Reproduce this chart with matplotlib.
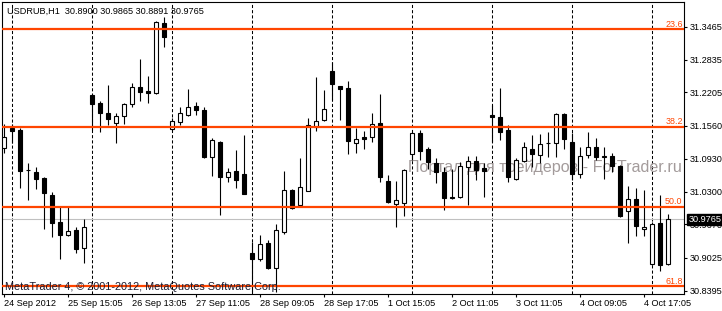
import numpy as np
import matplotlib.pyplot as plt

plt.rcParams['font.family'] = ['Liberation Sans', 'DejaVu Sans']

# USDRUB H1 candles
opens = [31.1130, 31.1526, 31.1481, 31.0707, 31.0675, 31.0560, 31.0227, 30.9709, 30.9459, 30.9555,
         30.9209, 31.2154, 31.1994, 31.1802, 31.1622, 31.1750, 31.1990, 31.2301, 31.2236, 31.2186,
         31.3530, 31.1495, 31.1641, 31.1764, 31.1942, 31.1865, 31.0957, 31.1251, 31.0573, 31.0694,
         31.0636, 30.9113, 30.8998, 30.9305, 30.8837, 30.9517, 31.0329, 31.0041, 31.0316, 31.1545,
         31.1673, 31.2614, 31.2326, 31.2294, 31.1226, 31.1341, 31.1341, 31.1622, 31.0508, 31.0054,
         31.0074, 31.1020, 31.1430, 31.1122, 31.0842, 31.0681, 31.0195, 31.0200, 31.0765, 31.0886,
         31.0746, 31.1769, 31.1725, 31.1481, 31.0540, 31.0892, 31.1111, 31.1001, 31.1226, 31.1226,
         31.1783, 31.1257, 31.0636, 31.1001, 31.1161, 31.0957, 31.0988, 31.0790, 30.9932, 31.0150,
         30.9574, 30.8908, 30.9690, 30.8900]
highs = [31.1591, 31.1597, 31.1514, 31.0853, 31.0771, 31.0585, 31.0291, 31.0003, 30.9997, 30.9613,
         30.9766, 31.2173, 31.2038, 31.2346, 31.1808, 31.2006, 31.2378, 31.2839, 31.2518, 31.3575,
         31.3657, 31.1712, 31.1917, 31.2263, 31.2025, 31.1923, 31.1322, 31.1264, 31.0752, 31.1097,
         31.1385, 30.9325, 30.9465, 30.9369, 30.9676, 31.0700, 31.0354, 31.0938, 31.1706, 31.2494,
         31.2250, 31.2787, 31.2330, 31.2422, 31.1514, 31.1468, 31.1802, 31.2173, 31.0617, 31.0502,
         31.0732, 31.1449, 31.1481, 31.1161, 31.0938, 31.0777, 31.0727, 31.0873, 31.0982, 31.0982,
         31.0853, 31.1962, 31.2288, 31.1577, 31.0938, 31.1257, 31.1385, 31.1399, 31.1449, 31.1808,
         31.1808, 31.1418, 31.1161, 31.1449, 31.1322, 31.1161, 31.1034, 31.0809, 31.0406, 31.0368,
         31.0329, 30.9715, 31.0233, 30.9865]
lows = [31.1034, 31.1232, 31.0373, 31.0137, 31.0343, 30.9574, 30.9432, 30.9010, 30.9455, 30.9113,
        30.8921, 31.1481, 31.1449, 31.1577, 31.1226, 31.1591, 31.1917, 31.2044, 31.1994, 31.2182,
        31.3081, 31.1472, 31.1577, 31.1750, 31.1769, 31.0953, 31.0598, 30.9849, 31.0489, 31.0362,
        31.0243, 30.8376, 30.8966, 30.8806, 30.8376, 30.9478, 30.9974, 31.0003, 31.0310, 31.1468,
        31.1660, 31.2058, 31.1673, 31.1015, 31.1034, 31.1111, 31.1257, 31.0489, 31.0074, 30.9624,
        30.9830, 31.0905, 31.0905, 31.0727, 31.0464, 30.9945, 31.0166, 31.0170, 31.0041, 31.0521,
        31.0200, 31.1257, 31.1289, 31.0489, 31.0521, 31.0873, 31.0777, 31.0842, 31.0969, 31.0969,
        31.1111, 31.0521, 31.0554, 31.0938, 31.0905, 31.0535, 31.0681, 30.9805, 30.9317, 30.9451,
        30.9451, 30.8889, 30.8779, 30.8891]
closes = [31.1353, 31.1468, 31.0700, 31.0707, 31.0546, 31.0277, 30.9690, 30.9459, 30.9547, 30.9190,
          30.9624, 31.1981, 31.1814, 31.1687, 31.1750, 31.1975, 31.2301, 31.2217, 31.2186, 31.3555,
          31.3273, 31.1648, 31.1802, 31.1929, 31.1865, 31.0957, 31.1289, 31.0573, 31.0675, 31.0521,
          31.0258, 30.8998, 30.9286, 30.8825, 30.9561, 31.0329, 30.9983, 31.0392, 31.1577, 31.1660,
          31.1879, 31.2359, 31.2275, 31.1276, 31.1303, 31.1314, 31.1591, 31.0585, 31.0093, 31.0137,
          31.0713, 31.1418, 31.1084, 31.0873, 31.0681, 31.0170, 31.0181, 31.0790, 31.0886, 31.0713,
          31.0700, 31.1725, 31.1449, 31.0573, 31.0905, 31.1161, 31.1015, 31.1207, 31.1226, 31.1783,
          31.1309, 31.0636, 31.0982, 31.1161, 31.0969, 31.0988, 31.0790, 30.9836, 31.0160, 30.9643,
          30.9613, 30.9676, 30.8883, 30.9765]

date_labels = ['24 Sep 2012', '25 Sep 15:05', '26 Sep 13:05', '27 Sep 11:05', '28 Sep 09:05',
               '28 Sep 17:05', '1 Oct 15:05', '2 Oct 11:05', '3 Oct 11:05', '4 Oct 09:05', '4 Oct 17:05']
date_idx = [0, 8, 16, 24, 32, 40, 48, 56, 64, 72, 80]
grid_idx = [1, 11, 21, 31, 41, 51, 61, 71, 81]
price_ticks = [31.3465, 31.2835, 31.2205, 31.1560, 31.0930, 31.0300, 30.9670, 30.9025, 30.8395]

fib_levels = [31.3421, 31.1545, 31.0008, 30.8485]
fib_labels = ['23.6', '38.2', '50.0', '61.8']
last_price = 30.9765
header = 'USDRUB,H1  30.8900 30.9865 30.8891 30.9765'

o = np.array(opens)
h = np.array(highs)
l = np.array(lows)
c = np.array(closes)
x = np.arange(len(o))
up = c >= o

fig = plt.figure(figsize=(7.22, 3.11), dpi=100)
ax = fig.add_axes([2/722, 17/311, 682/722, 292/311])
ax.set_xlim(-0.25, 85.0)
ax.set_ylim(30.8332, 31.3940)

for g in grid_idx:
    ax.axvline(g, color='black', lw=0.75, ls=(0, (3, 2)), zorder=1)
ax.axhline(last_price, color='#c0c0c0', lw=0.8, zorder=1)

ax.text(0.997, 0.4188, 'Портал для трейдеров - ForTrader.ru', transform=ax.transAxes,
        ha='right', va='baseline', fontsize=11.6, color='#a39b9b', zorder=1.5)

# candles
ax.vlines(x, l, h, color='black', lw=0.8, zorder=2)
lo = np.minimum(o, c)
ht = np.abs(c - o)
ax.bar(x[up], ht[up], bottom=lo[up], width=0.55, facecolor='white', edgecolor='black', lw=0.8, zorder=3)
ax.bar(x[~up], ht[~up], bottom=lo[~up], width=0.55, facecolor='black', edgecolor='black', lw=0.8, zorder=3)

# fibonacci levels
for lev, lab in zip(fib_levels, fib_labels):
    ax.axhline(lev, color='#ff4500', lw=1.6, zorder=4)
    ax.annotate(lab, xy=(1, lev), xycoords=('axes fraction', 'data'), xytext=(-1, 1.8),
                textcoords='offset points', ha='right', va='baseline', fontsize=6.4,
                color='#ff4500', zorder=5)

ax.text(0.0078, 0.9589, header, transform=ax.transAxes, ha='left', va='baseline',
        fontsize=6.6, color='black', zorder=6)
ax.text(0.0044, 0.0137, 'MetaTrader 4, © 2001-2012, MetaQuotes Software Corp.', transform=ax.transAxes,
        ha='left', va='baseline', fontsize=7.8, color='#1c1c30', zorder=6)

# axes
ax.set_xticks(date_idx)
ax.set_xticklabels(date_labels, ha='left', fontsize=6.6)
ax.tick_params(axis='x', direction='out', length=2.5, width=0.8, pad=1)
ax.yaxis.tick_right()
ax.set_yticks(price_ticks)
ax.set_yticklabels([f'{v:.4f}' for v in price_ticks], fontsize=6.6)
ax.tick_params(axis='y', direction='out', length=2, width=0.8, pad=2)
for s in ax.spines.values():
    s.set_linewidth(0.8)

ax.annotate(f'{last_price:.4f}', xy=(1, last_price), xycoords=('axes fraction', 'data'),
            xytext=(3.2, 0), textcoords='offset points', ha='left', va='center',
            fontsize=6.6, color='white', zorder=10, annotation_clip=False,
            bbox=dict(boxstyle='square,pad=0.12', facecolor='black', edgecolor='black'))

fig.savefig('out.png', dpi=100)
